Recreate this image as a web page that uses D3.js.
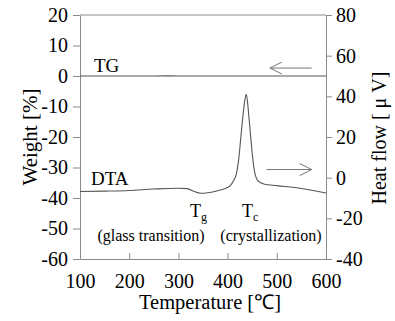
<!DOCTYPE html>
<html>
<head>
<meta charset="utf-8">
<script src="https://cdn.jsdelivr.net/npm/d3@7"></script>
<style>
  body { margin: 0; background: #fff; }
  svg text { font-family: "Liberation Serif", "Times New Roman", serif; fill: #000; }
</style>
</head>
<body>
<div id="chart"></div>
<script>
// Data
const dtaTemp = [100, 150, 200, 250, 300, 318, 330, 345, 360, 380, 395, 405, 412, 418, 423, 427, 431, 435, 438, 441, 444, 447, 450, 454, 458, 463, 475, 500, 550, 600];
const dtaHeat = [-6.8, -6.6, -6.3, -5.6, -5.2, -5.4, -6.6, -7.7, -7.4, -6.4, -5.3, -4.0, -1.5, 2, 10, 20, 30, 38, 41, 36, 28, 20, 12, 4, 0, -1.8, -3.2, -3.9, -5.3, -7.5];
const tgTemp = [100, 250, 280, 300, 350, 600];
const tgWeight = [0, 0, 0.1, 0, 0, 0];
const tempTicks = [100, 200, 300, 400, 500, 600];
const weightTicks = [20, 10, 0, -10, -20, -30, -40, -50, -60];
const heatTicks = [80, 60, 40, 20, 0, -20, -40];

const width = 395, height = 321;
const margin = { top: 15, right: 69, bottom: 62, left: 80 };

const svg = d3.select('#chart').append('svg')
    .attr('width', width)
    .attr('height', height);

const x = d3.scaleLinear([100, 600], [margin.left, width - margin.right]);
const yW = d3.scaleLinear([-60, 20], [height - margin.bottom, margin.top]);
const yH = d3.scaleLinear([-40, 80], [height - margin.bottom, margin.top]);

const axisColor = '#8a8a8a';
const lineColor = '#555';
const fam = '"Liberation Serif", "Times New Roman", serif';

// Axes
const axisB = svg.append('g')
    .attr('transform', `translate(0,${height - margin.bottom})`)
    .call(d3.axisBottom(x).tickValues(tempTicks).tickSizeInner(-6).tickSizeOuter(0).tickPadding(15));
const axisL = svg.append('g')
    .attr('transform', `translate(${margin.left},0)`)
    .call(d3.axisLeft(yW).tickValues(weightTicks).tickSize(7).tickSizeOuter(0).tickPadding(5));
const axisR = svg.append('g')
    .attr('transform', `translate(${width - margin.right},0)`)
    .call(d3.axisRight(yH).tickValues(heatTicks).tickSize(6).tickSizeOuter(0).tickPadding(4));

[axisB, axisL, axisR].forEach(a => {
    a.selectAll('path, line').attr('stroke', axisColor);
    a.selectAll('text')
        .style('font-family', fam)
        .style('font-size', '20px')
        .attr('fill', '#000');
});
axisL.selectAll('text').text(d => d < 0 ? '-' + Math.abs(d) : d);
axisR.selectAll('text').text(d => d < 0 ? '-' + Math.abs(d) : d);

// top border
svg.append('line')
    .attr('x1', margin.left).attr('x2', width - margin.right)
    .attr('y1', margin.top).attr('y2', margin.top)
    .attr('stroke', axisColor);

// TG line
const tgData = tgTemp.map((t, i) => [t, tgWeight[i]]);
svg.append('path')
    .datum(tgData)
    .attr('fill', 'none')
    .attr('stroke', lineColor)
    .attr('stroke-width', 1.1)
    .attr('d', d3.line().x(d => x(d[0])).y(d => yW(d[1])));

// DTA line
const dtaData = dtaTemp.map((t, i) => [t, dtaHeat[i]]);
svg.append('path')
    .datum(dtaData)
    .attr('fill', 'none')
    .attr('stroke', lineColor)
    .attr('stroke-width', 1.1)
    .attr('d', d3.line().curve(d3.curveMonotoneX).x(d => x(d[0])).y(d => yH(d[1])));

// Arrows
function arrow(x1, x2, y, dir) {
    const g = svg.append('g').attr('stroke', '#777').attr('fill', 'none').attr('stroke-width', 1);
    g.append('line').attr('x1', x1).attr('x2', x2).attr('y1', y).attr('y2', y);
    const tip = dir < 0 ? Math.min(x1, x2) : Math.max(x1, x2);
    g.append('path').attr('d', `M${tip - dir * 12},${y - 6} L${tip},${y} L${tip - dir * 12},${y + 6}`);
}
arrow(x(486), x(571), yW(2.6), -1);
arrow(x(479), x(571), yH(4), 1);

// Annotations
svg.append('text').attr('x', 94).attr('y', 72).style('font-size', '19px').text('TG');
svg.append('text').attr('x', 91).attr('y', 185).style('font-size', '19px').text('DTA');

const tg = svg.append('text').attr('x', 190).attr('y', 217).style('font-size', '18px');
tg.append('tspan').text('T');
tg.append('tspan').attr('dy', 4).style('font-size', '12px').text('g');
const tc = svg.append('text').attr('x', 242).attr('y', 217).style('font-size', '18px');
tc.append('tspan').text('T');
tc.append('tspan').attr('dy', 4).style('font-size', '12px').text('c');

svg.append('text').attr('x', 151).attr('y', 241).attr('text-anchor', 'middle')
    .style('font-size', '16px').text('(glass transition)');
svg.append('text').attr('x', 271).attr('y', 241).attr('text-anchor', 'middle')
    .style('font-size', '16px').text('(crystallization)');

// Axis titles
svg.append('text')
    .attr('x', 210).attr('y', 309).attr('text-anchor', 'middle')
    .style('font-size', '20.5px').text('Temperature [℃]');
svg.append('text')
    .attr('transform', `translate(37,${137}) rotate(-90)`)
    .attr('text-anchor', 'middle')
    .style('font-size', '21px').text('Weight [%]');
svg.append('text')
    .attr('transform', `translate(386,${138}) rotate(-90)`)
    .attr('text-anchor', 'middle')
    .style('font-size', '20px').text('Heat flow [ μ V]');
</script>
</body>
</html>
